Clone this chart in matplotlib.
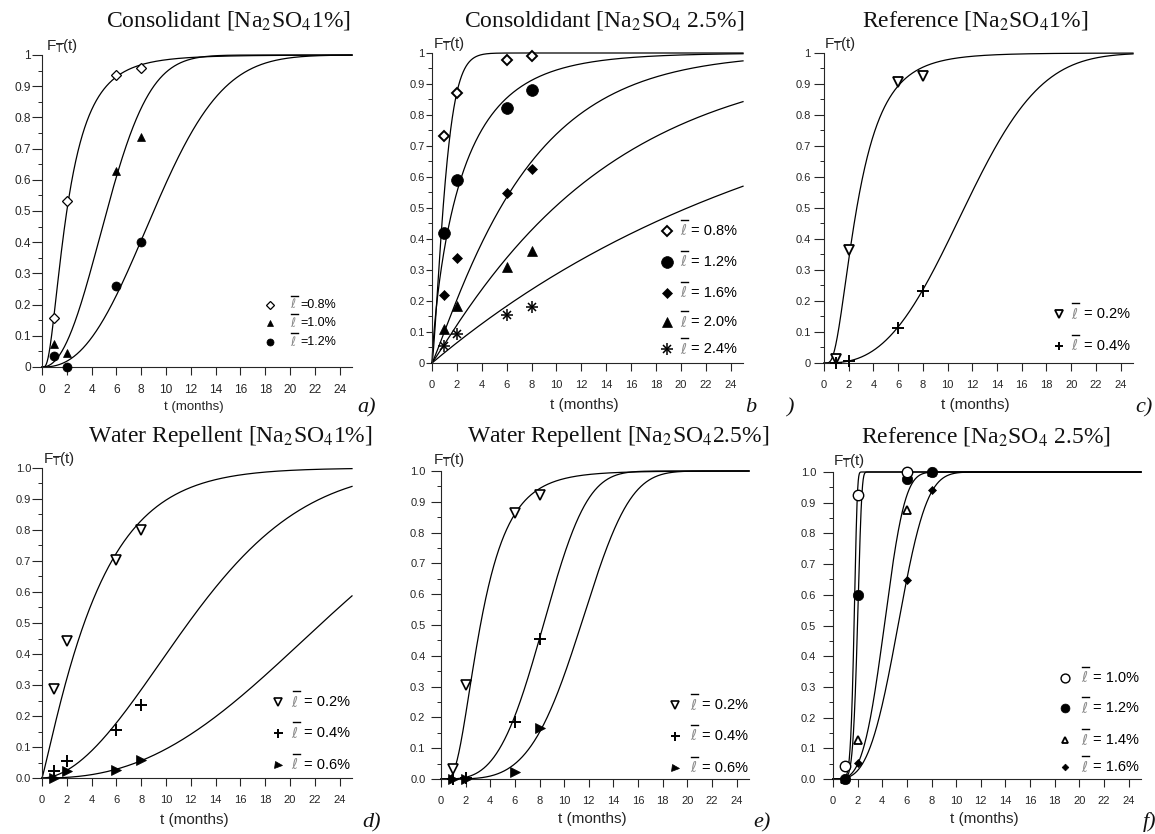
import math
import numpy as np
import matplotlib
matplotlib.use("Agg")
import matplotlib.pyplot as plt

plt.rcParams["font.family"] = ["Liberation Sans", "DejaVu Sans"]
plt.rcParams["mathtext.fontset"] = "custom"
plt.rcParams["mathtext.rm"] = "Liberation Sans"
plt.rcParams["mathtext.it"] = "Liberation Sans:italic"
plt.rcParams["mathtext.bf"] = "Liberation Sans:bold"

W, H = 1155, 834

# ---------------------------------------------------------------- data
months = [1, 2, 6, 8]
x_ticks = list(range(0, 25, 2))
y_ticks = [i / 10 for i in range(11)]
y_labels_short = ["0", "0.1", "0.2", "0.3", "0.4", "0.5", "0.6", "0.7", "0.8", "0.9", "1"]
y_labels_long = ["0.0", "0.1", "0.2", "0.3", "0.4", "0.5", "0.6", "0.7", "0.8", "0.9", "1.0"]

# fitted CDFs: (model, scale, shape); lognormal scale = median, shape = sigma
# (a) consolidant, Na2SO4 1 %
a_levels = ["0.8%", "1.0%", "1.2%"]
a_obs = [[0.158, 0.532, 0.936, 0.957],
         [0.075, 0.046, 0.629, 0.738],
         [0.035, 0.000, 0.260, 0.401]]
a_fit = [("lognormal", 2.0, 0.744), ("weibull", 6.17, 2.2), ("weibull", 10.5, 2.4)]

# (b) consolidant, Na2SO4 2.5 %
b_levels = ["0.8%", "1.2%", "1.6%", "2.0%", "2.4%"]
b_obs = [[0.731, 0.870, 0.978, 0.991],
         [0.419, 0.590, 0.822, 0.882],
         [0.218, 0.339, 0.547, 0.626],
         [0.111, 0.185, 0.310, 0.360],
         [0.056, 0.095, 0.154, 0.181]]
b_fit = [("weibull", 1.17, 1.35), ("weibull", 2.64, 0.8), ("weibull", 7.66, 1.1),
         ("weibull", 13.9, 1.05), ("weibull", 29.6, 1.0)]

# (c) reference, Na2SO4 1 %
c_levels = ["0.2%", "0.4%"]
c_obs = [[0.013, 0.363, 0.906, 0.927],
         [0.000, 0.005, 0.113, 0.231]]
c_fit = [("lognormal", 2.65, 0.655), ("weibull", 13.0, 2.7)]

# (d) water repellent, Na2SO4 1 %
d_levels = ["0.2%", "0.4%", "0.6%"]
d_obs = [[0.288, 0.441, 0.702, 0.800],
         [0.024, 0.054, 0.156, 0.237],
         [0.000, 0.024, 0.027, 0.059]]
d_fit = [("weibull", 4.75, 1.1), ("weibull", 14.35, 1.87), ("weibull", 26.3, 2.4)]

# (e) water repellent, Na2SO4 2.5 %
e_levels = ["0.2%", "0.4%", "0.6%"]
e_obs = [[0.032, 0.305, 0.864, 0.921],
         [0.000, 0.004, 0.186, 0.456],
         [0.000, 0.000, 0.022, 0.164]]
e_fit = [("lognormal", 3.2, 0.58), ("weibull", 9.25, 3.4), ("weibull", 12.42, 4.1)]

# (f) reference, Na2SO4 2.5 %
f_levels = ["1.0%", "1.2%", "1.4%", "1.6%"]
f_obs = [[0.043, 0.926, 1.000, np.nan],
         [0.000, 0.600, 0.978, 1.000],
         [0.000, 0.127, 0.875, 1.000],
         [0.000, 0.052, 0.647, 0.940]]
f_fit = [("weibull", 1.78, 9.0), ("weibull", 2.08, 8.0), ("weibull", 4.61, 3.6),
         ("weibull", 5.9, 3.3)]


def cdf(model, scale, shape, t):
    t = np.asarray(t, dtype=float)
    if model == "weibull":
        return 1.0 - np.exp(-(t / scale) ** shape)
    safe = np.where(t > 0, t, 1e-12)
    z = (np.log(safe) - math.log(scale)) / (shape * math.sqrt(2.0))
    return 0.5 * (1.0 + np.vectorize(math.erf)(z))


# ---------------------------------------------------------------- drawing
INK = "#262626"
fig = plt.figure(figsize=(W / 100, H / 100), dpi=100)


def px_rect(l, t, r, b):
    return [l / W, 1 - b / H, (r - l) / W, (b - t) / H]


def put_marker(ax, xs, ys, st, z, scale=1.0, **kw):
    ms = st["ms"] * scale
    if st["marker"] == "asterisk":
        ax.plot(xs, ys, ls="none", marker="+", ms=ms, mew=st["mew"], color="black",
                clip_on=False, zorder=z, **kw)
        ax.plot(xs, ys, ls="none", marker="x", ms=ms * 0.72, mew=st["mew"], color="black",
                clip_on=False, zorder=z, **kw)
    else:
        ax.plot(xs, ys, ls="none", marker=st["marker"], ms=ms, mfc=st["mfc"], mec="black",
                mew=st["mew"], clip_on=False, zorder=z, **kw)


def draw_panel(cfg):
    box = cfg["box"]
    ax = fig.add_axes(px_rect(*box))
    wpx, hpx = box[2] - box[0], box[3] - box[1]
    ax.set_xlim(0, 25)
    ax.set_ylim(0, 1)
    for s in ("top", "right"):
        ax.spines[s].set_visible(False)
    for s in ("left", "bottom"):
        ax.spines[s].set_color(INK)
        ax.spines[s].set_linewidth(0.8)
    ax.set_xticks(x_ticks)
    ax.set_xticklabels([str(v) for v in x_ticks])
    ax.set_yticks(y_ticks)
    ax.set_yticklabels(cfg["ylabels"])
    ax.set_yticks(np.arange(0.05, 1.0, 0.1), minor=True)
    ax.tick_params(axis="x", direction="out", length=5.8, width=0.8, pad=6.5,
                   labelsize=cfg["tick_fs"], colors=INK)
    ax.tick_params(axis="y", which="major", direction="out", length=cfg["ylen"],
                   width=0.8, pad=cfg["ypad"], labelsize=cfg["tick_fs"], colors=INK)
    ax.tick_params(axis="y", which="minor", direction="out", length=3, width=0.7,
                   colors=INK)

    t = np.linspace(0, 25, 2501)
    for fit in cfg["fits"]:
        ax.plot(t, cdf(*fit, t), color="black", lw=0.9, clip_on=False, zorder=2)
    zorders = cfg.get("z", [3] * len(cfg["obs"]))
    for vals, st, z in zip(cfg["obs"], cfg["styles"], zorders):
        put_marker(ax, months, vals, st, z)

    # key
    mx, lx, tx = cfg["leg_x"]
    for lev, st, ry in zip(cfg["levels"], cfg["styles"], cfg["leg_y"]):
        put_marker(ax, [mx], [ry], st, 6, scale=cfg["leg_scale"], transform=ax.transAxes)
        ax.text(lx, ry, "\u2113", color="#8c8c8c", fontsize=cfg["leg_fs"],
                family=["DejaVu Sans"], ha="left", va="center", transform=ax.transAxes)
        bar_y = ry + cfg["bar_dy"] / hpx
        ax.plot([lx + 1.0 / wpx, lx + 8.0 / wpx], [bar_y, bar_y], color="black", lw=1.0,
                transform=ax.transAxes, clip_on=False)
        ax.text(tx, ry, cfg["eq"] + lev, color="black", fontsize=cfg["leg_fs"],
                ha="left", va="center", transform=ax.transAxes)

    ax.text(cfg["f_x"], cfg["f_y"], r"F$_{\overline{\mathrm{T}}}$(t)", fontsize=11,
            color=INK, ha="left", va="center", transform=ax.transAxes)
    ax.text(0.49, cfg["xl_y"], "t (months)", fontsize=cfg["xl_fs"], color=INK,
            ha="center", va="center", transform=ax.transAxes)
    return ax


open_w = "white"
panels = [
    dict(box=(42, 55, 352, 367), levels=a_levels, obs=a_obs, fits=a_fit,
         styles=[dict(marker="D", ms=5.2, mfc=open_w, mew=0.9),
                 dict(marker="^", ms=6.0, mfc="black", mew=0.5),
                 dict(marker="o", ms=6.5, mfc="black", mew=0.5)],
         ylabels=y_labels_short, tick_fs=8.6, xl_fs=9.5, ylen=7.0, ypad=0.8,
         leg_x=(0.735, 0.800, 0.835), leg_y=(0.199, 0.141, 0.080), leg_scale=0.78,
         leg_fs=9, eq="=", bar_dy=9, f_x=0.013, f_y=1.03, xl_y=-0.128),
    dict(box=(432, 53, 743, 363), levels=b_levels, obs=b_obs, fits=b_fit,
         styles=[dict(marker="D", ms=5.0, mfc=open_w, mew=1.4),
                 dict(marker="o", ms=8.5, mfc="black", mew=0.5),
                 dict(marker="D", ms=5.2, mfc="black", mew=0.5),
                 dict(marker="^", ms=6.5, mfc="black", mew=0.5),
                 dict(marker="asterisk", ms=8.5, mfc="black", mew=1.1)],
         ylabels=y_labels_short, tick_fs=8.0, xl_fs=11, ylen=4.2, ypad=1.0,
         leg_x=(0.756, 0.798, 0.833), leg_y=(0.426, 0.326, 0.226, 0.132, 0.045),
         leg_scale=1.0, leg_fs=10.5, eq="= ", bar_dy=11, f_x=0.003, f_y=1.03,
         xl_y=-0.135),
    dict(box=(824, 53, 1133, 363), levels=c_levels, obs=c_obs, fits=c_fit,
         styles=[dict(marker="v", ms=7.0, mfc=open_w, mew=1.3),
                 dict(marker="+", ms=8.0, mfc="black", mew=1.4)],
         ylabels=y_labels_short, tick_fs=8.0, xl_fs=11, ylen=7.5, ypad=2.0,
         leg_x=(0.761, 0.800, 0.840), leg_y=(0.158, 0.055), leg_scale=0.75,
         leg_fs=10.5, eq="= ", bar_dy=11, f_x=0.0, f_y=1.03, xl_y=-0.135),
    dict(box=(42, 468, 352, 778), levels=d_levels, obs=d_obs, fits=d_fit,
         styles=[dict(marker="v", ms=7.5, mfc=open_w, mew=1.2),
                 dict(marker="+", ms=9.0, mfc="black", mew=1.4),
                 dict(marker=">", ms=7.0, mfc="black", mew=0.5)],
         ylabels=y_labels_long, tick_fs=8.0, xl_fs=11, ylen=7.2, ypad=0.5,
         leg_x=(0.761, 0.805, 0.845), leg_y=(0.244, 0.144, 0.042), leg_scale=0.72,
         leg_fs=10.5, eq="= ", bar_dy=11, f_x=0.004, f_y=1.03, xl_y=-0.135),
    dict(box=(441, 471, 749, 779), levels=e_levels, obs=e_obs, fits=e_fit,
         styles=[dict(marker="v", ms=7.5, mfc=open_w, mew=1.2),
                 dict(marker="+", ms=9.0, mfc="black", mew=1.4),
                 dict(marker=">", ms=7.0, mfc="black", mew=0.5)],
         ylabels=y_labels_long, tick_fs=8.0, xl_fs=11, ylen=7.2, ypad=4.0,
         leg_x=(0.760, 0.810, 0.847), leg_y=(0.240, 0.140, 0.037), leg_scale=0.72,
         leg_fs=10.5, eq="= ", bar_dy=11, f_x=-0.025, f_y=1.035, xl_y=-0.13),
    dict(box=(833, 472, 1141, 779), levels=f_levels, obs=f_obs, fits=f_fit,
         styles=[dict(marker="o", ms=7.5, mfc=open_w, mew=1.0),
                 dict(marker="o", ms=7.5, mfc="black", mew=0.5),
                 dict(marker="^", ms=5.5, mfc=open_w, mew=1.3),
                 dict(marker="D", ms=4.0, mfc="black", mew=0.5)],
         ylabels=y_labels_long, tick_fs=8.0, xl_fs=11, ylen=7.2, ypad=4.8,
         leg_x=(0.753, 0.806, 0.845), leg_y=(0.329, 0.231, 0.127, 0.039),
         leg_scale=0.85, leg_fs=10.5, eq="= ", bar_dy=11, f_x=0.0, f_y=1.036,
         xl_y=-0.13, z=[5, 4, 3, 3]),
]

for cfg in panels:
    draw_panel(cfg)

# panel titles
titles = [
    (r"Consolidant [Na$_2$SO$_4$1%]", 228, 27),
    (r"Consoldidant [Na$_2$SO$_4$ 2.5%]", 604, 27),
    (r"Reference [Na$_2$SO$_4$1%]", 975, 27),
    (r"Water Repellent [Na$_2$SO$_4$1%]", 230, 442),
    (r"Water Repellent [Na$_2$SO$_4$2.5%]", 618, 442),
    (r"Reference [Na$_2$SO$_4$ 2.5%]", 986, 442),
]
for txt, x, y in titles:
    fig.text(x / W, 1 - y / H, txt, fontsize=17, family=["Liberation Serif"],
             math_fontfamily="stix", ha="center", va="baseline", color="#111111")

# panel letters
letters = [("a)", 357, 412), ("b", 745, 412), (")", 786, 412), ("c)", 1135, 412),
           ("d)", 362, 827), ("e)", 753, 827), ("f)", 1143, 827)]
for txt, x, y in letters:
    fig.text(x / W, 1 - y / H, txt, fontsize=16, family=["Liberation Serif"],
             style="italic", ha="left", va="baseline", color="#111111")

fig.savefig("out.png", dpi=100)
